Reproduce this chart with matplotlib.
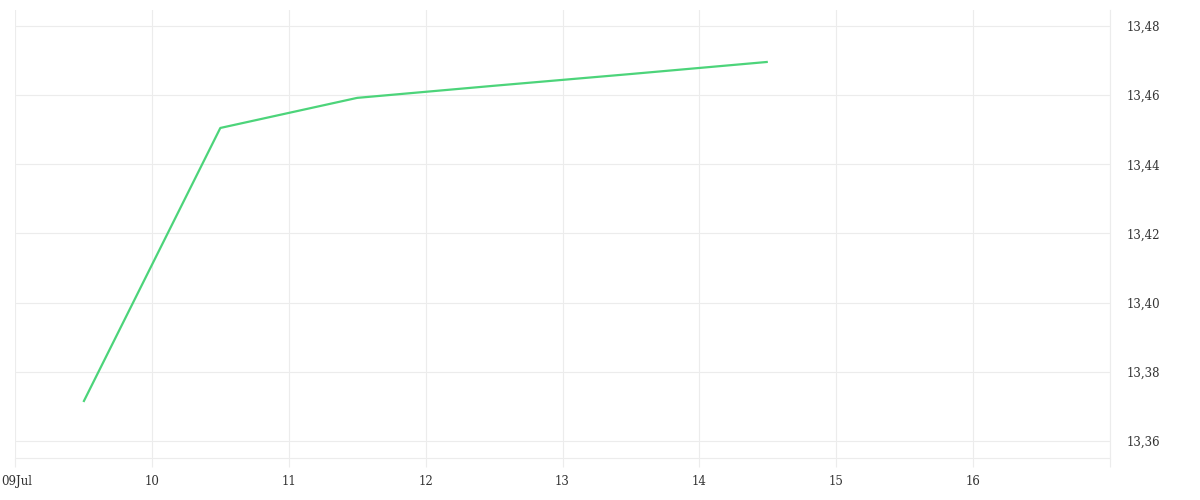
import matplotlib
matplotlib.use("Agg")
import matplotlib.pyplot as plt
import matplotlib.dates as mdates
import matplotlib.transforms as mtransforms
from matplotlib.ticker import FuncFormatter
from datetime import datetime

# series values (half-day points)
dates = ["2024-07-09 12:00", "2024-07-10 12:00", "2024-07-11 12:00",
         "2024-07-12 12:00", "2024-07-13 12:00", "2024-07-14 12:00"]
values = [13.3713, 13.4505, 13.4592, 13.4627, 13.4661, 13.4696]

x_start = "2024-07-09"
x_end = "2024-07-17"
y_ticks = [13.36, 13.38, 13.40, 13.42, 13.44, 13.46, 13.48]

line_color = "#4cd47a"
grid_color = "#ececec"
text_color = "#333333"

xs = [datetime.strptime(d, "%Y-%m-%d %H:%M") for d in dates]

fig = plt.figure(figsize=(12, 5), dpi=100)
ax = fig.add_axes([15 / 1200, 1 - 458 / 500, 1095 / 1200, 448 / 500])

ax.plot(xs, values, color=line_color, linewidth=1.6, solid_capstyle="butt")

ax.set_xlim(datetime.strptime(x_start, "%Y-%m-%d"), datetime.strptime(x_end, "%Y-%m-%d"))
ax.set_ylim(13.3551, 13.4846)

ax.xaxis.set_major_locator(mdates.DayLocator())


def fmt_day(v, pos):
    d = mdates.num2date(v)
    if d.day == 9:
        return d.strftime("%dJul")
    if d.day == 17:
        return ""
    return str(d.day)


ax.xaxis.set_major_formatter(FuncFormatter(fmt_day))
ax.set_yticks(y_ticks)
ax.yaxis.set_major_formatter(FuncFormatter(lambda v, p: f"{v:.2f}".replace(".", ",")))
ax.yaxis.tick_right()

ax.grid(True, color=grid_color, linewidth=0.8)
ax.set_axisbelow(True)

for side in ["left", "top"]:
    ax.spines[side].set_visible(False)
for side in ["right", "bottom"]:
    ax.spines[side].set_color(grid_color)
    ax.spines[side].set_linewidth(0.8)

ax.tick_params(axis="x", length=6.5, width=0.8, color=grid_color, pad=6,
               labelsize=8.5, labelcolor=text_color)
ax.tick_params(axis="y", length=0, pad=12, labelsize=8.5, labelcolor=text_color)
for lbl in ax.get_xticklabels() + ax.get_yticklabels():
    lbl.set_family("DejaVu Serif")

# keep the first date label inside the canvas, as in the reference
first = ax.get_xticklabels()[0]
first.set_horizontalalignment("left")
first.set_transform(first.get_transform() + mtransforms.ScaledTranslation(-14 / 100, 0, fig.dpi_scale_trans))

fig.savefig("out.png", dpi=100)
